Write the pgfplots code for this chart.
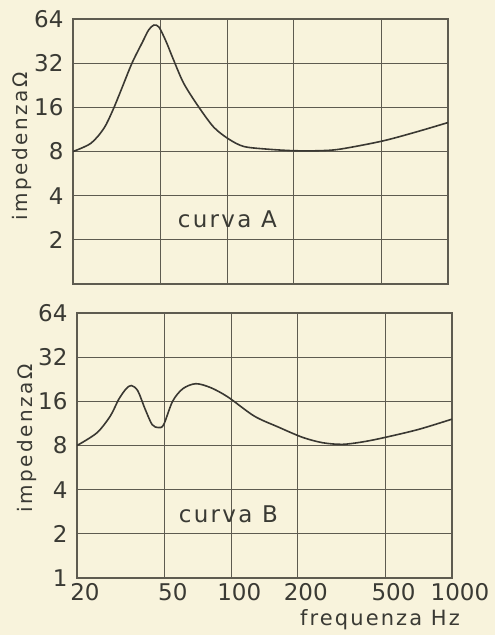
\documentclass[border=0pt]{standalone}
\usepackage{pgfplots}
\pgfplotsset{compat=1.18}
\usepackage{fontspec}
\setmainfont{DejaVu Sans}
\newfontfamily\spaced[LetterSpace=10]{DejaVu Sans}
\newfontfamily\yspaced[LetterSpace=12]{DejaVu Sans}
\definecolor{bg}{HTML}{F8F3DC}
\definecolor{gridc}{HTML}{5E5B50}
\definecolor{curvec}{HTML}{3A3832}
\definecolor{txt}{HTML}{3A3A34}
\begin{document}
\begin{tikzpicture}
\fill[bg] (0,0) rectangle (495pt,-635pt);
\useasboundingbox (0,0) rectangle (495pt,-635pt);
% top chart
\begin{axis}[at={(73pt,-284pt)}, anchor=south west,
    scale only axis, width=375pt, height=265pt,
    xmode=log, ymode=log, log basis y=2,
    xmin=20, xmax=1000, ymin=1, ymax=64,
    xtick={20,50,100,200,500,1000},
    ytick={1,2,4,8,16,32,64},
    grid=major, major grid style={gridc, line width=1.1pt},
    axis line style={gridc, line width=1.2pt},
    major tick length=0pt,
    tick label style={font=\fontsize{23}{26}\selectfont, text=txt},
    /pgf/number format/assume math mode=true,
    yticklabel style={xshift=-6pt},
  xticklabels={}, yticklabels={,2,4,8,16,32,64}]
\addplot[curvec, line width=1.6pt, smooth] coordinates {
(20,8) (24.1,9.1) (27.6,11.5) (30.3,15.3) (33,20.9) (37,32) (41.3,44.6) (44,53.8) (46.5,58.2)
(49,56.4) (52.7,45.3) (56.9,34.1) (63.5,23.3) (74,16.2) (86.9,11.7) (101.8,9.7) (119,8.65) (152,8.3)
(200,8.1) (260,8.1) (324,8.3) (500,9.4) (707,10.8) (1000,12.6)};
\node[font=\spaced\fontsize{23}{26}\selectfont, text=txt] at (axis cs:100,2.75) {curva A};
\end{axis}
% bottom chart
\begin{axis}[at={(77pt,-578pt)}, anchor=south west,
    scale only axis, width=375pt, height=265pt,
    xmode=log, ymode=log, log basis y=2,
    xmin=20, xmax=1000, ymin=1, ymax=64,
    xtick={20,50,100,200,500,1000},
    ytick={1,2,4,8,16,32,64},
    grid=major, major grid style={gridc, line width=1.1pt},
    axis line style={gridc, line width=1.2pt},
    major tick length=0pt,
    tick label style={font=\fontsize{23}{26}\selectfont, text=txt},
    /pgf/number format/assume math mode=true,
    yticklabel style={xshift=-6pt},
  xticklabels={20,50,100,200,500,1000},
  xticklabel style={anchor=north, xshift=8pt, yshift=-2pt},
  yticklabels={1,2,4,8,16,32,64}]
\addplot[curvec, line width=1.6pt, smooth] coordinates {
(20,8) (24.6,9.75) (28.3,12.7) (30.9,16.5) (33.4,19.5) (35.3,20.5) (37.7,18.9) (40.6,14.3)
(43.8,11.1) (46.8,10.6) (49.4,11.1) (54.2,16) (60.3,19.5) (69.1,21.1) (80.9,19.8) (96.7,17.1)
(127,12.7) (163,10.7) (210,9.1) (260,8.35) (320,8.15) (400,8.5) (500,9.1) (706,10.3) (1000,12.1)};
\node[font=\spaced\fontsize{23}{26}\selectfont, text=txt] at (axis cs:97,2.73) {curva B};
\end{axis}
\node[rotate=90, font=\yspaced\fontsize{20}{24}\selectfont, text=txt] at (22pt,-146pt) {impedenza\,Ω};
\node[rotate=90, font=\yspaced\fontsize{20}{24}\selectfont, text=txt] at (27pt,-438pt) {impedenza\,Ω};
\node[font=\spaced\fontsize{21}{24}\selectfont, text=txt] at (380pt,-620pt) {frequenza Hz};
\end{tikzpicture}
\end{document}
